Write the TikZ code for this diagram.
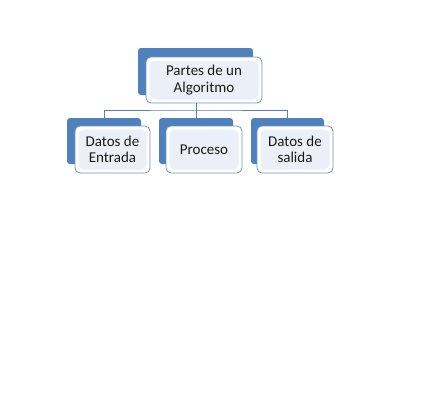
\documentclass[tikz,border=0pt]{standalone}
\usepackage{fontspec}
\setmainfont{Carlito}
\definecolor{blueA}{HTML}{4F81BD}
\definecolor{borderC}{HTML}{7394C8}
\definecolor{lightC}{HTML}{EBF0F8}
\definecolor{lineC}{HTML}{5A80B8}
\definecolor{txtC}{HTML}{1A1A1A}
\begin{document}
\begin{tikzpicture}[x=1pt,y=-1pt,
  backbox/.style={fill=blueA, draw=none, rounded corners=3pt, inner sep=0pt},
  frontbox/.style={fill=white, draw=borderC, line width=0.8pt, rounded corners=5pt, inner sep=0pt,
    align=center, text=txtC, font=\fontsize{15}{16.5}\selectfont,
    path picture={\fill[lightC] ([shift={(3.5pt,-3.5pt)}]path picture bounding box.north west) rectangle ([shift={(-3.5pt,3.5pt)}]path picture bounding box.south east);}},
  conn/.style={draw=lineC, line width=0.9pt}]
\useasboundingbox (0,0) rectangle (444,410);
% top
\node[backbox, minimum width=115pt, minimum height=47pt] (topback) at (195.5,71.5) {};
\node[frontbox, minimum width=116pt, minimum height=46pt] (top) at (204,80) {Partes de un\\Algoritmo};
% children
\node[backbox, minimum width=74pt, minimum height=46pt] (leftback) at (104,141) {};
\node[frontbox, minimum width=75pt, minimum height=47pt] (left) at (112.5,149.5) {Datos de\\Entrada};
\node[backbox, minimum width=74pt, minimum height=46pt] (midback) at (196,141) {};
\node[frontbox, minimum width=76pt, minimum height=47pt] (mid) at (204,149.5) {Proceso};
\node[backbox, minimum width=73pt, minimum height=46pt] (rightback) at (287.5,141) {};
\node[frontbox, minimum width=76pt, minimum height=47pt] (right) at (295,149.5) {Datos de\\salida};
% connectors
\coordinate (j) at (196,110);
\draw[conn] (top.south -| j) -- (j);
\draw[conn] (leftback.north) |- (j) -| (rightback.north);
\draw[conn] (j) -- (j |- midback.north);
\end{tikzpicture}
\end{document}
